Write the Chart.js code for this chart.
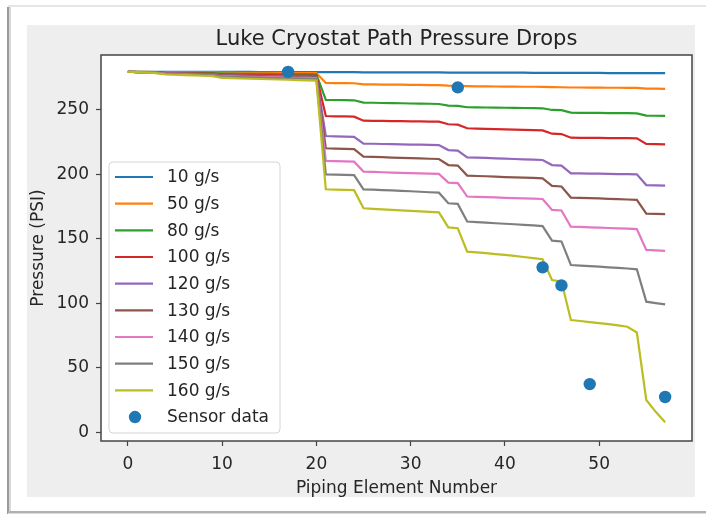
<!DOCTYPE html>
<html>
<head>
<meta charset="utf-8">
<script src="https://cdn.jsdelivr.net/npm/chart.js@4/dist/chart.umd.min.js"></script>
<style>
html,body{margin:0;padding:0;background:#ffffff;}
#wrap{position:relative;width:706px;height:515px;}
canvas{display:block;}
</style>
</head>
<body>
<div id="wrap"><canvas id="c" width="706" height="515"></canvas></div>
<script>
// ---- data ----
const elements = [0,1,2,3,4,5,6,7,8,9,10,11,12,13,14,15,16,17,18,19,20,21,22,23,24,25,26,27,28,29,30,31,32,33,34,35,36,37,38,39,40,41,42,43,44,45,46,47,48,49,50,51,52,53,54,55,56,57];

const seriesLabels = ['10 g/s','50 g/s','80 g/s','100 g/s','120 g/s','130 g/s','140 g/s','150 g/s','160 g/s'];

const flow10 = [279.6,279.6,279.6,279.6,279.5,279.5,279.5,279.5,279.5,279.5,279.5,279.5,279.5,279.5,279.4,279.4,279.4,279.4,279.4,279.4,279.4,
  279.3,279.3,279.3,279.3, 279.2,279.2,279.2,279.2,279.2,279.1,279.1,279.1,279.1, 279.0,279.0, 279.0,279.0,279.0,278.9,278.9,278.9,278.9,278.8,278.8, 278.8,278.8, 278.7,278.7,278.7,278.7,278.6,278.6,278.6,278.6, 278.5,278.5,278.5];
const flow50 = [279.6,279.5,279.5,279.4,279.3,279.3,279.2,279.2,279.2,279.1,278.9,278.9,278.8,278.8,278.8,278.7,278.7,278.7,278.6,278.6,278.6,
  270.9,270.8,270.8,270.7, 269.9,269.8,269.7,269.6,269.6,269.5,269.4,269.3,269.2, 268.8,268.6, 268.4,268.3,268.3,268.2,268.1,268.1,268.0,268.0,267.9, 267.7,267.6, 267.4,267.4,267.3,267.3,267.2,267.2,267.1,267.1, 266.6,266.5,266.4];
const flow80 = [279.6,279.5,279.4,279.3,279.0,278.9,278.8,278.7,278.7,278.6,278.2,278.1,278.0,278.0,277.9,277.9,277.8,277.8,277.7,277.7,277.6,
  257.8,257.7,257.6,257.5, 255.7,255.6,255.4,255.3,255.2,255.0,254.9,254.8,254.6, 253.4,253.2, 252.1,252.0,251.9,251.8,251.7,251.6,251.5,251.4,251.3, 250.0,249.8, 247.9,247.8,247.8,247.7,247.6,247.5,247.5,247.4, 245.6,245.5,245.4];
const flow100 = [279.6,279.4,279.3,279.1,278.7,278.6,278.4,278.3,278.2,278.1,277.5,277.4,277.3,277.2,277.1,277.0,276.9,276.8,276.7,276.7,276.6,
  245.3,245.1,245.0,244.8, 241.7,241.6,241.5,241.4,241.3,241.2,241.1,241.0,240.9, 238.9,238.6, 235.8,235.6,235.4,235.2,235.0,234.8,234.6,234.4,234.2, 231.6,231.3, 228.5,228.4,228.4,228.3,228.2,228.1,228.1,228.0, 223.6,223.5,223.4];
const flow120 = [279.6,279.4,279.2,279.0,278.4,278.3,278.1,278.0,277.8,277.7,276.9,276.8,276.7,276.5,276.4,276.3,276.2,276.1,275.9,275.8,275.7,
  229.8,229.6,229.4,229.2, 223.9,223.8,223.6,223.5,223.4,223.2,223.1,222.9,222.8, 218.9,218.5, 213.3,213.0,212.8,212.5,212.3,212.0,211.7,211.5,211.2, 207.3,206.9, 200.9,200.8,200.7,200.6,200.4,200.3,200.2,200.1, 191.8,191.6,191.4];
const flow130 = [279.6,279.4,279.2,278.9,278.3,278.1,277.9,277.8,277.6,277.4,276.5,276.4,276.3,276.1,276.0,275.9,275.7,275.6,275.5,275.3,275.2,
  220.3,220.1,219.9,219.7, 213.8,213.6,213.4,213.1,212.9,212.7,212.5,212.2,212.0, 207.3,206.9, 199.1,198.8,198.6,198.3,198.0,197.8,197.5,197.3,197.0, 191.1,190.7, 182.1,181.9,181.6,181.4,181.1,180.9,180.6,180.3, 169.6,169.4,169.2];
const flow140 = [279.6,279.4,279.1,278.9,278.1,277.9,277.7,277.5,277.3,277.1,276.1,276.0,275.8,275.7,275.5,275.4,275.2,275.1,274.9,274.8,274.6,
  210.5,210.3,210.1,209.9, 202.2,202.0,201.7,201.5,201.3,201.1,200.8,200.6,200.4, 193.7,193.3, 182.9,182.7,182.4,182.2,181.9,181.7,181.5,181.2,181.0, 172.5,172.1, 159.5,159.3,159.0,158.8,158.5,158.2,158.0,157.7, 141.5,141.1,140.8];
const flow150 = [279.6,279.3,279.0,278.8,277.9,277.7,277.5,277.3,277.0,276.8,275.7,275.5,275.4,275.2,275.0,274.9,274.7,274.5,274.3,274.2,274.0,
  200.1,199.9,199.7,199.5, 188.5,188.2,187.9,187.6,187.3,187.0,186.6,186.2,185.9, 177.7,177.2, 163.5,163.1,162.7,162.2,161.8,161.4,160.9,160.5,160.0, 148.7,148.1, 129.8,129.4,128.9,128.5,128.0,127.6,127.1,126.5, 101.4,100.3,99.3];
const flow160 = [279.6,279.3,278.9,278.6,277.6,277.3,277.0,276.8,276.5,276.2,274.8,274.6,274.4,274.2,274.0,273.8,273.6,273.4,273.2,273.0,272.8,
  188.5,188.2,188.0,187.8, 173.8,173.4,173.0,172.6,172.2,171.8,171.4,171.0,170.6, 159.0,158.3, 140.2,139.6,139.0,138.3,137.6,136.9,136.0,135.2,134.3, 118.2,117.0, 87.2,86.4,85.6,84.8,84.0,83.0,82.0,77.5, 25.2,16.0,8.0];

const sensorLabel = 'Sensor data';
const sensorX = [17,35,44,46,49,57];
const sensorY = [279.5,267.5,128,114,37.5,27.5];

const xTicks = [0,10,20,30,40,50];
const yTicks = [0,50,100,150,200,250];

const chartTitle = 'Luke Cryostat Path Pressure Drops';
const xTitle = 'Piping Element Number';
const yTitle = 'Pressure (PSI)';

// ---- styling ----
const colors = ['#1f77b4','#ff7f0e','#2ca02c','#d62728','#9467bd','#8c564b','#e377c2','#7f7f7f','#bcbd22'];
const FONT = "'DejaVu Sans', 'Liberation Sans', sans-serif";
const TEXT = '#262626';
const AXIS = '#444444';

const flows = [flow10,flow50,flow80,flow100,flow120,flow130,flow140,flow150,flow160];

const datasets = flows.map((arr, k) => ({
  type: 'line',
  label: seriesLabels[k],
  data: elements.map((x, i) => ({x: x, y: arr[i]})),
  borderColor: colors[k],
  backgroundColor: colors[k],
  borderWidth: 2.2,
  pointRadius: 0,
  tension: 0,
  fill: false,
  order: 20 - k
}));
datasets.push({
  type: 'scatter',
  label: sensorLabel,
  data: sensorX.map((x, i) => ({x: x, y: sensorY[i]})),
  backgroundColor: '#1f77b4',
  borderColor: '#1f77b4',
  borderWidth: 0,
  pointRadius: 6.2,
  showLine: false,
  order: 0
});

const framePlugin = {
  id: 'frame',
  beforeDraw(chart) {
    const ctx = chart.ctx;
    const a = chart.chartArea;
    ctx.save();
    ctx.fillStyle = '#ffffff';
    ctx.fillRect(0, 0, chart.width, chart.height);
    // screenshot frame lines
    ctx.fillStyle = '#e6e6e6';
    ctx.fillRect(8, 5, 698, 2);
    ctx.fillStyle = '#9a9a9a';
    ctx.fillRect(7, 7, 2, 507);
    ctx.fillStyle = '#d8d8d8';
    ctx.fillRect(9, 7, 2, 505);
    ctx.fillStyle = '#b0b0b0';
    ctx.fillRect(8, 511, 698, 2);
    ctx.fillStyle = '#dcdcdc';
    ctx.fillRect(8, 513, 698, 1);
    // figure background
    ctx.fillStyle = '#eeeeee';
    ctx.fillRect(27, 25, 668, 472);
    // axes background
    ctx.fillStyle = '#ffffff';
    ctx.fillRect(a.left, a.top, a.right - a.left, a.bottom - a.top);
    // title
    ctx.fillStyle = '#222222';
    ctx.font = '21px ' + FONT;
    ctx.textAlign = 'center';
    ctx.textBaseline = 'middle';
    ctx.fillText(chartTitle, (a.left + a.right) / 2, 40);
    ctx.restore();
  },
  afterDatasetsDraw(chart) {
    const ctx = chart.ctx;
    const a = chart.chartArea;
    ctx.save();
    // spines
    ctx.strokeStyle = AXIS;
    ctx.lineWidth = 1.5;
    ctx.strokeRect(a.left, a.top, a.right - a.left, a.bottom - a.top);
    // legend
    const bx = 109, by = 162, bw = 171, bh = 271, r = 4;
    ctx.beginPath();
    ctx.moveTo(bx + r, by);
    ctx.lineTo(bx + bw - r, by);
    ctx.quadraticCurveTo(bx + bw, by, bx + bw, by + r);
    ctx.lineTo(bx + bw, by + bh - r);
    ctx.quadraticCurveTo(bx + bw, by + bh, bx + bw - r, by + bh);
    ctx.lineTo(bx + r, by + bh);
    ctx.quadraticCurveTo(bx, by + bh, bx, by + bh - r);
    ctx.lineTo(bx, by + r);
    ctx.quadraticCurveTo(bx, by, bx + r, by);
    ctx.closePath();
    ctx.fillStyle = 'rgba(255,255,255,0.85)';
    ctx.fill();
    ctx.strokeStyle = '#d4d4d4';
    ctx.lineWidth = 1;
    ctx.stroke();
    const rowH = 26.67;
    ctx.font = '17px ' + FONT;
    ctx.textAlign = 'left';
    ctx.textBaseline = 'middle';
    chart.data.datasets.forEach((ds, k) => {
      const y = 177 + k * rowH;
      if (ds.type === 'scatter') {
        ctx.beginPath();
        ctx.arc(135, y, 6.2, 0, Math.PI * 2);
        ctx.fillStyle = ds.backgroundColor;
        ctx.fill();
      } else {
        ctx.beginPath();
        ctx.moveTo(115, y);
        ctx.lineTo(153, y);
        ctx.strokeStyle = ds.borderColor;
        ctx.lineWidth = 2.2;
        ctx.stroke();
      }
      ctx.fillStyle = TEXT;
      ctx.fillText(ds.label, 167, y + 1);
    });
    ctx.restore();
  }
};

new Chart(document.getElementById('c'), {
  type: 'line',
  data: { datasets: datasets },
  options: {
    responsive: false,
    animation: false,
    devicePixelRatio: 1,
    layout: { padding: { left: 27, top: 55, right: 14, bottom: 16 } },
    plugins: {
      legend: { display: false },
      title: { display: false },
      tooltip: { enabled: false }
    },
    scales: {
      x: {
        type: 'linear',
        min: -2.85,
        max: 59.85,
        afterBuildTicks: s => { s.ticks = xTicks.map(v => ({value: v})); },
        afterFit: s => { s.height = 58; },
        border: { display: false },
        grid: { drawOnChartArea: false, drawTicks: true, tickLength: 5, color: AXIS, tickColor: AXIS, tickWidth: 1.2 },
        ticks: { padding: 8, color: TEXT, font: { family: FONT, size: 17 }, maxRotation: 0, autoSkip: false },
        title: { display: true, text: xTitle, color: TEXT, font: { family: FONT, size: 17 }, padding: { top: 0, bottom: 0 } }
      },
      y: {
        type: 'linear',
        min: -6.6,
        max: 292.6,
        afterBuildTicks: s => { s.ticks = yTicks.map(v => ({value: v})); },
        afterFit: s => { s.width = 74; },
        border: { display: false },
        grid: { drawOnChartArea: false, drawTicks: true, tickLength: 5, color: AXIS, tickColor: AXIS, tickWidth: 1.2 },
        ticks: { padding: 7, color: TEXT, font: { family: FONT, size: 17 }, autoSkip: false },
        title: { display: true, text: yTitle, color: TEXT, font: { family: FONT, size: 17 }, padding: { top: 1, bottom: 0 } }
      }
    }
  },
  plugins: [framePlugin]
});
</script>
</body>
</html>
